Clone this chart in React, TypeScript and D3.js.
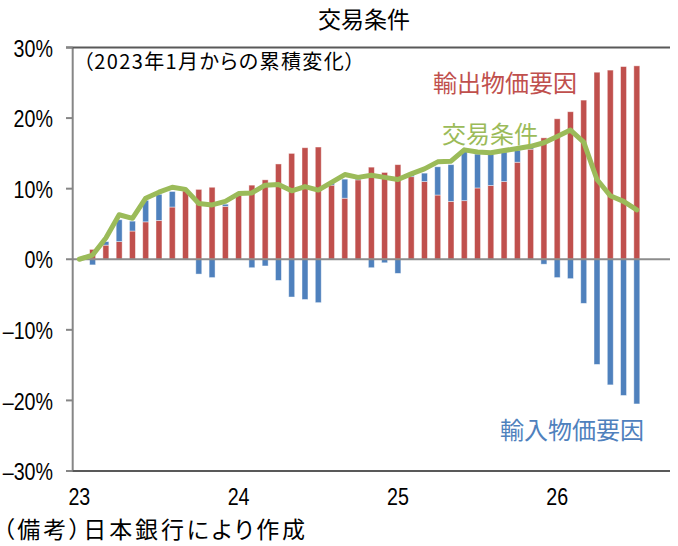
import React from "react";
import * as d3 from "d3";

// month index 0 = 2023/1
const months: number[] = d3.range(43);
const slots: number[] = d3.range(45);

const exportFactor: number[] = [
  0, 1.4, 2.0, 2.5, 4.0, 5.3, 5.5, 7.4, 9.7, 9.9,
  10.2, 7.5, 9.1, 10.5, 11.25, 13.5, 15.0, 15.8, 15.9, 10.5,
  8.65, 11.25, 13.05, 12.3, 13.4, 11.7, 11.0, 9.1, 8.2, 8.3,
  10.1, 10.45, 11.0, 13.75, 15.6, 17.2, 19.9, 20.9, 22.55, 26.5,
  26.8, 27.3, 27.4,
];

const importFactor: number[] = [
  0, -0.8, 0.5, 3.1, 1.4, 3.05, 3.7, 2.2, 0.2, -2.1,
  -2.6, 0.3, 0.2, -1.2, -0.95, -3.0, -5.35, -5.7, -6.15, 0.3,
  2.7, 0.3, -1.2, -0.5, -2.0, 0.4, 1.2, 4.0, 5.2, 7.0,
  4.8, 4.4, 4.2, 1.7, 0.3, -0.7, -2.6, -2.75, -6.25, -14.9,
  -17.8, -19.3, -20.5,
];

const termsOfTrade: number[] = [
  0, 0.6, 3.0, 6.3, 5.8, 8.65, 9.5, 10.2, 9.9, 7.9,
  7.7, 8.2, 9.3, 9.4, 10.5, 10.6, 9.7, 10.3, 9.8, 10.9,
  12.0, 11.6, 11.9, 11.6, 11.3, 12.1, 12.8, 13.8, 13.9, 15.5,
  15.2, 15.1, 15.4, 15.7, 16.0, 16.5, 17.4, 18.3, 16.6, 11.3,
  9.0, 8.2, 7.0,
];

const yTicks: number[] = [-0.3, -0.2, -0.1, 0, 0.1, 0.2, 0.3];
const xTickIdx: number[] = [0, 12, 24, 36];
const xTickLabels: string[] = ["23", "24", "25", "26"];

const RED = "#C0504D";
const BLUE = "#4F81BD";
const GREEN = "#9BBB59";

const NUM_FONT = "'Liberation Sans', Arial, sans-serif";
const JP_FONT = "'Noto Sans CJK JP', 'Noto Sans', sans-serif";
const NARROW = 0.82;

export default function App() {
  const W = 678;
  const H = 546;
  const left = 72.7;
  const right = 670;
  const top = 47.5;
  const bottom = 471;

  const x = d3
    .scaleBand<number>()
    .domain(slots)
    .range([left, right])
    .paddingInner(0.55)
    .paddingOuter(0.275);
  const cx = (i: number) => (x(i) as number) + x.bandwidth() / 2;
  const y = d3.scaleLinear().domain([-0.3, 0.3]).range([bottom, top]);

  const rows = months.map((i) => ({
    i,
    exp: exportFactor[i] / 100,
    imp: importFactor[i] / 100,
  }));
  const stack = d3
    .stack<{ i: number; exp: number; imp: number }>()
    .keys(["exp", "imp"])
    .offset(d3.stackOffsetDiverging);
  const series = stack(rows);
  const colors = [RED, BLUE];

  const line = d3
    .line<number>()
    .x((_, k) => cx(months[k]))
    .y((v) => y(v / 100));

  const fmt = (t: number) => d3.format(".0%")(t).replace("−", "–");

  return (
    <svg
      width={W}
      height={H}
      style={{ position: "absolute", left: 0, top: 0, background: "#fff" }}
    >
      <rect x={0} y={0} width={W} height={H} fill="#fff" />
      {/* title */}
      <text
        x={364}
        y={18}
        textAnchor="middle"
        dominantBaseline="central"
        fontFamily={JP_FONT}
        fontSize={23}
        fill="#000"
      >
        交易条件
      </text>

      {/* bars */}
      {series.map((s, si) => (
        <g key={si} fill={colors[si]}>
          {s.map((d, k) => {
            const y0 = y(d[0]);
            const y1 = y(d[1]);
            const h = Math.abs(y0 - y1);
            if (h < 0.01) return null;
            return (
              <rect
                key={k}
                x={x(months[k])}
                width={x.bandwidth()}
                y={Math.min(y0, y1)}
                height={h}
                stroke="#fff"
                strokeOpacity={0.55}
                strokeWidth={0.8}
              />
            );
          })}
        </g>
      ))}

      {/* zero line */}
      <line x1={left} x2={right} y1={y(0)} y2={y(0)} stroke="#8c8c8c" strokeWidth={2} />

      {/* terms of trade line */}
      <path
        d={line(termsOfTrade) || ""}
        fill="none"
        stroke={GREEN}
        strokeWidth={5}
        strokeLinejoin="round"
        strokeLinecap="round"
      />

      {/* frame */}
      <line x1={left} x2={left} y1={top} y2={bottom} stroke="#868686" strokeWidth={2} />
      <line x1={66} x2={right} y1={top} y2={top} stroke="#595959" strokeWidth={2} />
      <line x1={66} x2={right} y1={bottom} y2={bottom} stroke="#595959" strokeWidth={2} />

      {/* y ticks */}
      {yTicks.map((t) => (
        <g key={t}>
          <line x1={66} x2={left} y1={y(t)} y2={y(t)} stroke="#868686" strokeWidth={2} />
          <text
            transform={`translate(53,${y(t) + 1}) scale(${NARROW},1)`}
            textAnchor="end"
            dominantBaseline="central"
            fontFamily={NUM_FONT}
            fontSize={24}
            fill="#000"
          >
            {fmt(t)}
          </text>
        </g>
      ))}

      {/* x labels */}
      {xTickIdx.map((idx, k) => (
        <text
          key={idx}
          transform={`translate(${cx(idx)},497) scale(${NARROW},1)`}
          textAnchor="middle"
          dominantBaseline="central"
          fontFamily={NUM_FONT}
          fontSize={24}
          fill="#000"
        >
          {xTickLabels[k]}
        </text>
      ))}

      {/* subtitle */}
      <text
        x={83}
        y={60}
        dominantBaseline="central"
        fontFamily={JP_FONT}
        fontSize={20}
        fill="#000"
        textLength={272}
        lengthAdjust="spacing"
        style={{ fontFeatureSettings: '"palt"' }}
      >
        （2023年1月からの累積変化）
      </text>

      {/* series labels */}
      <text
        x={505}
        y={81}
        textAnchor="middle"
        dominantBaseline="central"
        fontFamily={JP_FONT}
        fontSize={24}
        fill={RED}
      >
        輸出物価要因
      </text>
      <text
        x={490}
        y={132}
        textAnchor="middle"
        dominantBaseline="central"
        fontFamily={JP_FONT}
        fontSize={24}
        fill={GREEN}
      >
        交易条件
      </text>
      <text
        x={572}
        y={428}
        textAnchor="middle"
        dominantBaseline="central"
        fontFamily={JP_FONT}
        fontSize={24}
        fill={BLUE}
      >
        輸入物価要因
      </text>

      {/* footnote */}
      <text
        x={3}
        y={528}
        dominantBaseline="central"
        fontFamily={JP_FONT}
        fontSize={23}
        fill="#000"
        textLength={302}
        lengthAdjust="spacing"
        style={{ fontFeatureSettings: '"palt"' }}
      >
        （備考）日本銀行により作成
      </text>
    </svg>
  );
}
